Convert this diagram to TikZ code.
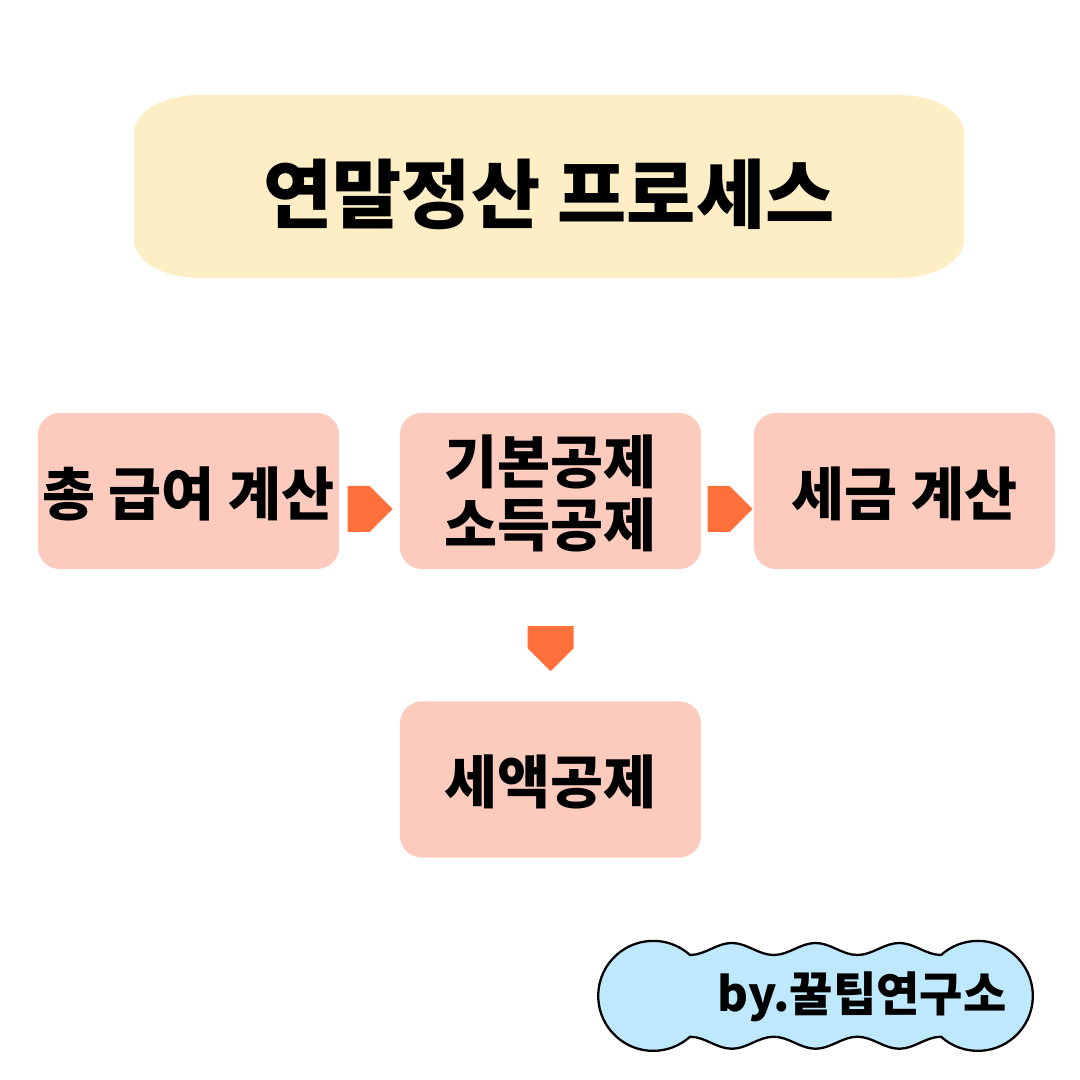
\documentclass[tikz,border=0pt]{standalone}
\usepackage{fontspec}
\setmainfont{Noto Sans CJK KR}
\usepackage{xcolor}
\usepackage{tikz}
\usetikzlibrary{shapes.arrows,positioning,calc}
\definecolor{titlebg}{RGB}{253, 238, 197}
\definecolor{stepbg}{RGB}{252, 203, 189}
\definecolor{arrowfg}{RGB}{255, 112, 59}
\definecolor{cloudbg}{RGB}{189, 232, 253}
\tikzset{
  stepbox/.style={fill=stepbg, rounded corners=0.22cm, minimum width=3.01cm, minimum height=1.56cm,
    inner sep=0pt, text depth=0pt, align=center, font=\bfseries\fontsize{16.4}{18}\selectfont},
  flowarrow/.style={single arrow, fill=arrowfg, minimum width=0.46cm, minimum height=0.45cm,
    single arrow head extend=0pt, single arrow tip angle=90, inner sep=0pt, outer sep=0pt},
  cloudline/.style={draw=black, fill=cloudbg, line width=0.65pt}
}

\begin{document}
\begin{tikzpicture}[x=0.01cm, y=0.01cm]
    \useasboundingbox[fill=white] (0,0) rectangle (1080,1080);
    % title banner
    \fill[titlebg] (199,985) -- (899,985) arc[start angle=90, end angle=0, x radius=65, y radius=38]
        -- (964,840) arc[start angle=0, end angle=-90, x radius=65, y radius=38]
        -- (199,802) arc[start angle=270, end angle=180, x radius=65, y radius=38]
        -- (134,947) arc[start angle=180, end angle=90, x radius=65, y radius=38] -- cycle;
    \node[font=\bfseries\fontsize{21.4}{25}\selectfont] (title) at (549,886) {연말정산 프로세스};
    % steps
    \node[stepbox] (gross) at (188.5,589) {총 급여 계산};
    \node[stepbox] (deduct) at (550.5,589) {기본공제\\소득공제};
    \node[stepbox] (taxcalc) at (904.5,589) {세금 계산};
    \node[stepbox] (credit) at (550.5,300.5) {세액공제};
    \node[flowarrow] (arr1) at ($(gross.east)!0.5!(deduct.west)+(-11,-18)$) {};
    \node[flowarrow] (arr2) at ($(deduct.east)!0.5!(taxcalc.west)+(-9,-18)$) {};
    \node[flowarrow, rotate=-90] (arr3) at ($(deduct.south)!0.5!(credit.north)+(0,-2)$) {};
    % signature cloud
    \draw[cloudline] (690,125) arc[start angle=48, end angle=312, radius=55]
        \foreach \k in {1,2,3} { cos ++(20.92,-6) sin ++(20.92,-6) cos ++(20.92,6) sin ++(20.92,6) }
        arc[start angle=-132, end angle=132, radius=55]
        \foreach \k in {1,2,3} { cos ++(-20.92,6) sin ++(-20.92,6) cos ++(-20.92,-6) sin ++(-20.92,-6) }
        -- cycle;
    \node[font=\bfseries\fontsize{13.4}{16}\selectfont] (sig) at (862,83) {by.꿀팁연구소};
\end{tikzpicture}
\end{document}
